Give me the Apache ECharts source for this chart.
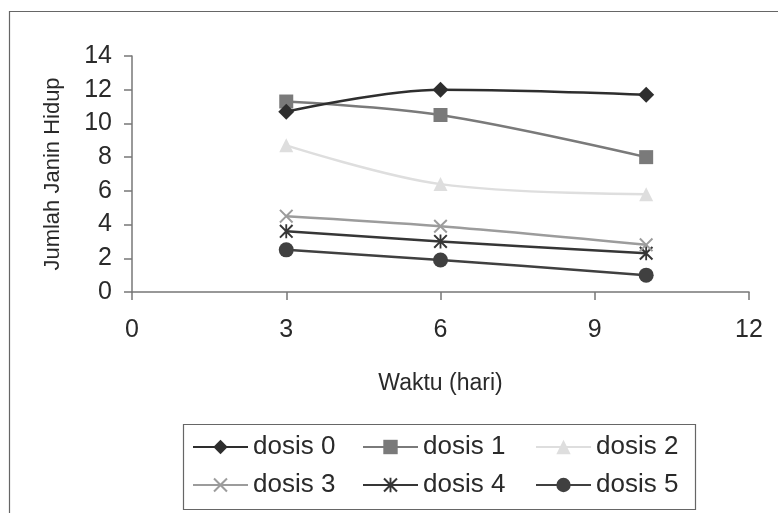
<!DOCTYPE html>
<html>
<head>
<meta charset="utf-8">
<script src="https://cdn.jsdelivr.net/npm/echarts@6/dist/echarts.min.js"></script>
<style>html,body{margin:0;padding:0;background:#fff}#c{width:778px;height:513px}</style>
</head>
<body>
<div id="c"></div>
<script>
const days = [3, 6, 10];
const seriesNames = ['dosis 0', 'dosis 1', 'dosis 2', 'dosis 3', 'dosis 4', 'dosis 5'];
const dosis0 = [10.7, 12.0, 11.7];
const dosis1 = [11.3, 10.5, 8.0];
const dosis2 = [8.7, 6.4, 5.8];
const dosis3 = [4.5, 3.9, 2.8];
const dosis4 = [3.6, 3.0, 2.3];
const dosis5 = [2.5, 1.9, 1.0];
const xTicks = [0, 3, 6, 9, 12];
const yTicks = [0, 2, 4, 6, 8, 10, 12, 14];

const values = [dosis0, dosis1, dosis2, dosis3, dosis4, dosis5];
const colors = ['#2e2e2e', '#7a7a7a', '#dedede', '#9c9c9c', '#363636', '#404040'];
const xPath = 'path://M1,0L5,4L9,0L10,1L6,5L10,9L9,10L5,6L1,10L0,9L4,5L0,1Z';
const starPath = 'path://M1,0L5,4L9,0L10,1L6,5L10,9L9,10L5,6L1,10L0,9L4,5L0,1ZM4.35,0L5.65,0L5.65,10L4.35,10Z';
const symbols = ['diamond', 'rect', 'triangle', xPath, starPath, 'circle'];
const sizes = [16, 14, 14, 14, 14, 15];

const font = 'Liberation Sans, Arial, sans-serif';
const textColor = '#2a2a2a';
const chart = echarts.init(document.getElementById('c'));

const series = seriesNames.map((n, i) => ({
  name: n,
  type: 'line',
  smooth: 0.35,
  data: days.map((d, j) => [d, values[i][j]]),
  symbol: symbols[i],
  symbolSize: sizes[i],
  showSymbol: true,
  lineStyle: { color: colors[i], width: 2.5 },
  itemStyle: { color: colors[i] },
  z: 10 - i,
  animation: false
}));

const legendCols = [['dosis 0', 'dosis 3'], ['dosis 1', 'dosis 4'], ['dosis 2', 'dosis 5']];
const legendLefts = [192, 362, 535];
const legends = legendCols.map((col, k) => ({
  data: col,
  orient: 'vertical',
  left: legendLefts[k],
  top: 434,
  padding: 0,
  itemWidth: 55,
  itemHeight: 18,
  itemGap: 12,
  selectedMode: false,
  textStyle: { fontFamily: font, fontSize: 26, color: textColor, lineHeight: 26 }
}));

chart.setOption({
  animation: false,
  backgroundColor: '#fff',
  grid: { left: 132, right: 29, top: 56, bottom: 221, containLabel: false },
  xAxis: {
    type: 'value', min: xTicks[0], max: xTicks[xTicks.length - 1], interval: 3,
    name: 'Waktu (hari)', nameLocation: 'middle', nameGap: 80,
    nameTextStyle: { fontFamily: font, fontSize: 23, color: textColor },
    axisLine: { show: true, lineStyle: { color: '#777', width: 1.5 } },
    axisTick: { show: true, length: 8, inside: false, lineStyle: { color: '#777', width: 1.5 } },
    axisLabel: { fontFamily: font, fontSize: 25, color: textColor, margin: 26 },
    splitLine: { show: false }
  },
  yAxis: {
    type: 'value', min: yTicks[0], max: yTicks[yTicks.length - 1], interval: 2,
    name: 'Jumlah Janin Hidup', nameLocation: 'middle', nameGap: 68, nameRotate: 90,
    nameTextStyle: { fontFamily: font, fontSize: 22, color: textColor },
    axisLine: { show: true, lineStyle: { color: '#777', width: 1.5 } },
    axisTick: { show: true, length: 8, inside: false, lineStyle: { color: '#777', width: 1.5 } },
    axisLabel: { fontFamily: font, fontSize: 25, color: textColor, margin: 20 },
    splitLine: { show: false }
  },
  legend: legends,
  graphic: [
    { type: 'rect', shape: { x: 9.5, y: 11.5, width: 900, height: 700 }, style: { fill: 'none', stroke: '#666', lineWidth: 1.2 }, silent: true },
    { type: 'rect', shape: { x: 183.5, y: 424.5, width: 512, height: 85 }, style: { fill: 'none', stroke: '#666', lineWidth: 1.2 }, silent: true }
  ],
  series: series
});
</script>
</body>
</html>
